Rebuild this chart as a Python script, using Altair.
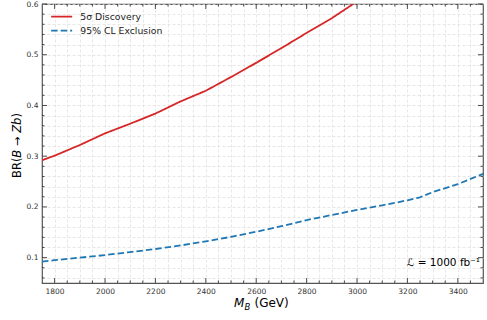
import altair as alt
import pandas as pd

# ---- data ----
series_names = ["5σ Discovery", "95% CL Exclusion"]

mass_disc = [1750, 1800, 1900, 2000, 2100, 2200, 2300, 2400, 2500, 2600, 2700, 2800, 2900, 3000]
br_disc = [0.292, 0.301, 0.322, 0.345, 0.364, 0.384, 0.408, 0.429, 0.456, 0.484, 0.513, 0.543, 0.572, 0.605]

mass_excl = [1750, 1800, 1900, 2000, 2100, 2200, 2300, 2400, 2500, 2600, 2700, 2800, 2900,
             3000, 3100, 3200, 3250, 3300, 3400, 3500]
br_excl = [0.092, 0.095, 0.100, 0.105, 0.111, 0.117, 0.124, 0.132, 0.141, 0.151, 0.162, 0.174,
           0.184, 0.194, 0.203, 0.213, 0.219, 0.229, 0.245, 0.265]

x_major = [1800, 2000, 2200, 2400, 2600, 2800, 3000, 3200, 3400]
x_minor = [v for v in range(1800, 3500, 50) if v not in x_major]
y_major = [0.1, 0.2, 0.3, 0.4, 0.5, 0.6]
y_minor = [0.06, 0.08, 0.12, 0.14, 0.16, 0.18, 0.22, 0.24, 0.26, 0.28, 0.32, 0.34, 0.36,
           0.38, 0.42, 0.44, 0.46, 0.48, 0.52, 0.54, 0.56, 0.58]

lumi_label = "ℒ = 1000 fb⁻¹"

FONT = "DejaVu Sans"
W, H = 441, 279
RED, BLUE = "#d62728", "#1f77b4"

df = pd.concat([
    pd.DataFrame({"series": series_names[0], "mass": mass_disc, "br": br_disc}),
    pd.DataFrame({"series": series_names[1], "mass": mass_excl, "br": br_excl}),
])

x_grid = sorted(x_major + x_minor)
y_grid = sorted(y_major + y_minor)

xenc = alt.X("mass:Q",
             scale=alt.Scale(domain=[1750, 3500], nice=False, zero=False),
             axis=alt.Axis(title=None, values=x_grid, format="d",
                           labelExpr="datum.value % 200 == 0 ? datum.label : ''",
                           labelOverlap=False, tickSize=0, domain=False,
                           labelFontSize=7.5, labelColor="#333333", labelPadding=4,
                           grid=True, gridDash=[3, 2], gridColor="#dcdcdc", gridWidth=0.7))
yenc = alt.Y("br:Q",
             scale=alt.Scale(domain=[0.05, 0.6], nice=False, zero=False),
             axis=alt.Axis(title=None, values=y_grid,
                           labelExpr="abs(datum.value*10 - round(datum.value*10)) < 0.001 ? format(datum.value, '.1f') : ''",
                           labelOverlap=False, tickSize=0, domain=False,
                           labelFontSize=7.5, labelColor="#333333", labelPadding=4,
                           grid=True, gridDash=[3, 2], gridColor="#dcdcdc", gridWidth=0.7))

leg = alt.Legend(title=None, orient="none", legendX=15, legendY=8,
                 symbolType="M-3,0H3", symbolSize=49, symbolStrokeWidth=1.8,
                 labelFontSize=9.3, labelOffset=14, rowPadding=4, padding=0,
                 labelFont=FONT, labelColor="#222222")

lines = alt.Chart(df).mark_line(clip=True, strokeWidth=1.8).encode(
    x=xenc, y=yenc,
    color=alt.Color("series:N", scale=alt.Scale(domain=series_names, range=[RED, BLUE]), legend=leg),
    strokeDash=alt.StrokeDash("series:N", scale=alt.Scale(domain=series_names, range=[[1, 0], [6.5, 3]]), legend=leg),
)

def xticks(vals, length, top):
    y0, y1 = (0, length) if top else (H, H - length)
    return alt.Chart(pd.DataFrame({"mass": vals})).mark_rule(color="#222222", strokeWidth=0.8).encode(
        x=xenc, y=alt.value(y0), y2=alt.value(y1))

def yticks(vals, length, right):
    x0, x1 = (W, W - length) if right else (0, length)
    return alt.Chart(pd.DataFrame({"br": vals})).mark_rule(color="#222222", strokeWidth=0.8).encode(
        y=yenc, x=alt.value(x0), x2=alt.value(x1))

def label(txt, x, y, size=12, style="normal", angle=0, align="left"):
    return alt.Chart(pd.DataFrame({"t": [txt]})).mark_text(
        fontSize=size, fontStyle=style, angle=angle, align=align, baseline="alphabetic",
        font=FONT, color="black").encode(text="t:N", x=alt.value(x), y=alt.value(y))

tick_layers = [
    xticks(x_major, 5, False), xticks(x_major, 5, True),
    xticks(x_minor, 2.5, False), xticks(x_minor, 2.5, True),
    yticks(y_major, 5, False), yticks(y_major, 5, True),
    yticks(y_minor, 2.5, False), yticks(y_minor, 2.5, True),
]

# x title: M_B (GeV)
xt = [
    label("M", 192, 303, 12, "italic"),
    label("B", 202.5, 305.5, 8.5, "italic"),
    label("(GeV)", 212.5, 303, 12),
]
# y title: BR(B -> Zb), rotated, composed bottom-to-top (em widths, gaps in em)
fs = 11.5
y0 = 174
xb = -21
segs = [("BR(", "normal", 1.771, 0.0), ("B", "italic", 0.686, 0.0), ("→", "normal", 0.838, 0.318),
        ("Zb", "italic", 1.320, 0.318), (")", "normal", 0.390, 0.0)]
yt = []
pos = y0
for txt, st, em, gap in segs:
    pos -= gap * fs
    yt.append(label(txt, xb, pos, fs, st, angle=270))
    pos -= em * fs

annot = label(lumi_label, 438, 262, 10.5, align="right")

chart = alt.layer(lines, *tick_layers, *xt, *yt, annot).properties(
    width=W, height=H,
    padding={"left": 42, "top": 4, "right": 4, "bottom": 37},
    autosize=alt.AutoSizeParams(type="none"),
).configure(font=FONT).configure_view(stroke="#555555", strokeWidth=1.2)

chart.save("out.html", embed_options={"renderer": "svg", "actions": False})
